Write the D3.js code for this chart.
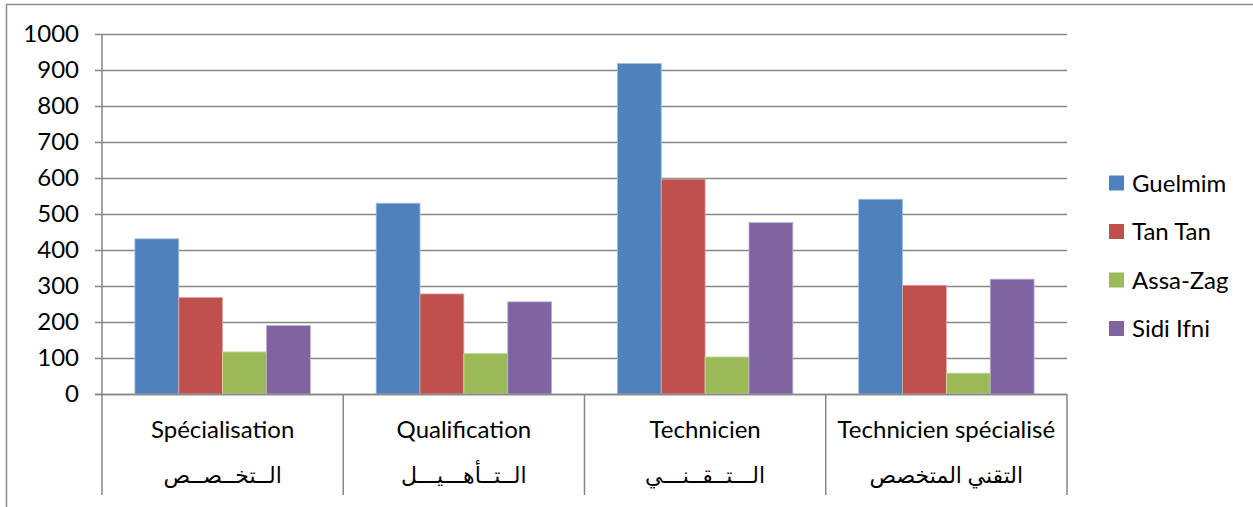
<!DOCTYPE html>
<html>
<head>
<meta charset="utf-8">
<script src="https://cdn.jsdelivr.net/npm/d3@7"></script>
<style>
  html, body { margin: 0; padding: 0; background: #fff; }
  svg { display: block; }
  text { font-family: Lato, "DejaVu Sans", sans-serif; fill: #000; }
</style>
</head>
<body>
<svg id="chart" width="1253" height="507"></svg>
<script>
const categories = ["Spécialisation", "Qualification", "Technicien", "Technicien spécialisé"];
const categoriesAr = ["الــتخــصــص", "الــتــأهـــيـــل", "الـــتــقــنـــي", "التقني المتخصص"];
const seriesNames = ["Guelmim", "Tan Tan", "Assa-Zag", "Sidi Ifni"];
const guelmim = [431, 530, 918, 541];
const tanTan = [268, 278, 597, 302];
const assaZag = [117, 113, 103, 58];
const sidiIfni = [190, 256, 476, 319];
const yTicks = [0, 100, 200, 300, 400, 500, 600, 700, 800, 900, 1000];
const colors = ["#4F81BD", "#C0504D", "#9BBB59", "#8064A2"];
const strokes = ["#A7C0DE", "#DFA9A7", "#CDDDAC", "#BFB1D0"];

const seriesValues = [guelmim, tanTan, assaZag, sidiIfni];

const svg = d3.select("#chart");
const mLeft = 102, mRight = 1067, mTop = 34, mBottom = 394;

// outer frame (top and left edges visible)
svg.append("path")
  .attr("d", "M6.5,507 L6.5,4.5 L1253,4.5")
  .attr("fill", "none").attr("stroke", "#8c8c8c").attr("stroke-width", 1.5);

const y = d3.scaleLinear().domain([0, 1000]).range([mBottom, mTop]);
const x0 = d3.scaleBand().domain(categories).range([mLeft, mRight]).paddingInner(0).paddingOuter(0);
const x1 = d3.scaleBand().domain(seriesNames).range([0, x0.bandwidth()]).paddingInner(0).paddingOuter(0.75);

// gridlines
svg.append("g").selectAll("line").data(yTicks).join("line")
  .attr("x1", mLeft).attr("x2", mRight)
  .attr("y1", d => Math.round(y(d)) + 0.5).attr("y2", d => Math.round(y(d)) + 0.5)
  .attr("stroke", "#878787").attr("stroke-width", 1.5);

// y axis
const yAxis = d3.axisLeft(y).tickValues(yTicks).tickFormat(d3.format("d")).tickSize(7).tickPadding(16);
const gy = svg.append("g").attr("transform", `translate(${mLeft},0)`).call(yAxis);
gy.select(".domain").remove();
gy.selectAll(".tick line").attr("stroke", "#878787").attr("stroke-width", 1.5);
gy.selectAll(".tick text").attr("font-family", "Lato, sans-serif").attr("font-size", 24).attr("fill", "#000");

// bars
const groups = svg.append("g").selectAll("g").data(categories).join("g")
  .attr("transform", d => `translate(${x0(d)},0)`);
groups.selectAll("rect")
  .data((c, ci) => seriesNames.map((s, si) => ({ s, si, v: seriesValues[si][ci] })))
  .join("rect")
  .attr("x", d => x1(d.s))
  .attr("width", x1.bandwidth())
  .attr("y", d => y(d.v))
  .attr("height", d => y(0) - y(d.v))
  .attr("fill", d => colors[d.si])
  .attr("stroke", d => strokes[d.si])
  .attr("stroke-width", 0.8);

// vertical axis line
svg.append("line").attr("x1", mLeft).attr("x2", mLeft).attr("y1", mTop).attr("y2", 495)
  .attr("stroke", "#878787").attr("stroke-width", 1.5);
// x baseline
svg.append("line").attr("x1", mLeft - 7).attr("x2", mRight).attr("y1", mBottom + 0.5).attr("y2", mBottom + 0.5)
  .attr("stroke", "#878787").attr("stroke-width", 1.5);

// category dividers
const bounds = categories.map(c => x0(c) + x0.bandwidth());
svg.append("g").selectAll("line").data(bounds).join("line")
  .attr("x1", d => d).attr("x2", d => d).attr("y1", mBottom).attr("y2", 495)
  .attr("stroke", "#878787").attr("stroke-width", 1.5);

// category labels
svg.append("g").selectAll("text").data(categories).join("text")
  .attr("x", d => x0(d) + x0.bandwidth() / 2)
  .attr("y", 438)
  .attr("text-anchor", "middle")
  .attr("font-size", 24)
  .text(d => d);
svg.append("g").selectAll("text").data(categoriesAr).join("text")
  .attr("x", (d, i) => x0(categories[i]) + x0.bandwidth() / 2)
  .attr("y", 483)
  .attr("text-anchor", "middle")
  .attr("font-family", "'DejaVu Sans', sans-serif")
  .attr("font-size", 22)
  .text(d => d);

// legend
const legend = svg.append("g").selectAll("g").data(seriesNames).join("g")
  .attr("transform", (d, i) => `translate(1109,${183 + i * 48.5})`);
legend.append("rect").attr("x", 0).attr("y", -7.5).attr("width", 15).attr("height", 15)
  .attr("fill", (d, i) => colors[i]);
legend.append("text").attr("x", 23).attr("y", 8.5).attr("font-size", 24).text(d => d);
</script>
</body>
</html>
